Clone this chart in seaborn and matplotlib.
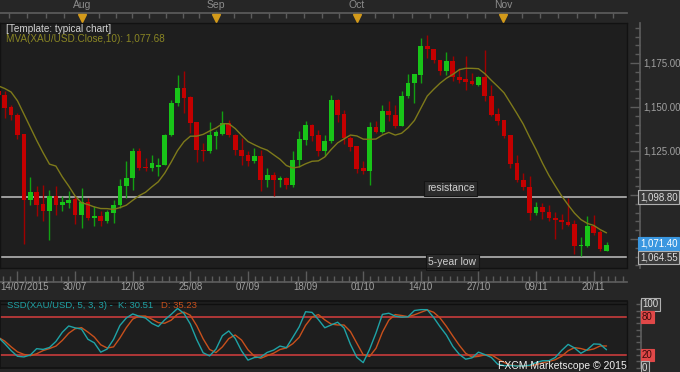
import numpy as np
import pandas as pd
import matplotlib
matplotlib.use("Agg")
import matplotlib.pyplot as plt
import matplotlib.transforms as mtransforms
from matplotlib.ticker import FuncFormatter, MultipleLocator
import seaborn as sns

# ---------------- data ----------------
opens = [1158.9, 1157.0, 1150.0, 1145.6, 1134.7, 1097.3, 1101.7, 1094.9, 1090.7, 1099.2,
         1094.1, 1095.4, 1097.7, 1088.8, 1096.0, 1086.9, 1088.3, 1085.4, 1089.8, 1094.5,
         1104.9, 1109.7, 1124.8, 1115.9, 1115.3, 1115.9, 1117.2, 1134.3, 1152.3, 1160.8,
         1155.5, 1141.3, 1125.8, 1124.8, 1133.7, 1134.8, 1140.9, 1134.3, 1125.8, 1122.5,
         1119.5, 1122.4, 1108.3, 1111.5, 1108.3, 1109.7, 1105.5, 1120.1, 1131.4, 1140.0,
         1133.9, 1124.8, 1130.5, 1154.2, 1146.2, 1132.4, 1127.7, 1115.3, 1113.8, 1138.5,
         1135.8, 1147.5, 1145.6, 1139.0, 1156.1, 1163.6, 1168.4, 1184.5, 1183.0, 1176.5,
         1170.6, 1175.9, 1167.0, 1165.9, 1164.6, 1162.5, 1166.9, 1156.1, 1146.2, 1142.4,
         1133.9, 1118.2, 1108.7, 1104.5, 1089.8, 1093.0, 1090.2, 1086.9, 1085.6, 1084.5,
         1083.5, 1070.8, 1071.2, 1082.6, 1079.0, 1068.2]
highs = [1160.5, 1158.9, 1151.3, 1146.6, 1134.7, 1110.2, 1104.9, 1105.9, 1103.0, 1104.9,
         1099.2, 1102.5, 1099.2, 1104.0, 1098.3, 1093.6, 1090.7, 1091.7, 1097.3, 1109.1,
         1119.1, 1126.7, 1126.7, 1121.0, 1122.9, 1121.0, 1134.8, 1154.2, 1168.4, 1170.3,
         1156.4, 1141.3, 1129.6, 1141.5, 1137.1, 1147.9, 1142.4, 1134.5, 1132.4, 1124.8,
         1126.7, 1125.8, 1115.1, 1112.9, 1111.0, 1110.0, 1124.8, 1136.2, 1141.9, 1140.2,
         1137.1, 1134.3, 1157.0, 1154.4, 1148.1, 1133.3, 1127.9, 1119.1, 1141.5, 1141.9,
         1151.3, 1153.6, 1151.3, 1159.3, 1168.8, 1169.0, 1189.2, 1191.1, 1183.2, 1176.7,
         1181.1, 1179.2, 1172.2, 1179.2, 1169.3, 1167.4, 1182.6, 1162.7, 1149.4, 1142.6,
         1134.0, 1122.5, 1112.5, 1110.6, 1096.0, 1095.4, 1094.5, 1090.2, 1089.2, 1098.3,
         1085.6, 1075.9, 1087.9, 1088.5, 1079.9, 1073.1]
lows = [1155.0, 1143.7, 1142.8, 1131.8, 1072.4, 1094.5, 1088.3, 1085.4, 1074.2, 1088.8,
        1090.7, 1092.6, 1083.5, 1081.3, 1086.0, 1082.2, 1082.2, 1084.1, 1084.1, 1092.6,
        1098.3, 1103.0, 1114.4, 1113.4, 1113.4, 1110.6, 1116.8, 1133.3, 1150.4, 1146.6,
        1135.2, 1118.6, 1119.1, 1123.9, 1126.1, 1134.3, 1132.9, 1122.9, 1117.2, 1116.7,
        1118.2, 1102.1, 1104.5, 1099.2, 1104.4, 1103.6, 1104.5, 1115.9, 1128.2, 1130.5,
        1122.3, 1122.3, 1129.5, 1141.3, 1129.2, 1124.8, 1112.5, 1112.1, 1105.5, 1135.2,
        1135.2, 1142.2, 1138.1, 1139.0, 1155.1, 1152.3, 1163.6, 1177.8, 1175.0, 1168.4,
        1168.4, 1164.6, 1163.6, 1159.8, 1162.7, 1161.7, 1153.2, 1144.7, 1140.0, 1132.4,
        1115.3, 1107.4, 1103.0, 1086.0, 1088.8, 1086.4, 1085.0, 1075.0, 1080.9, 1082.2,
        1066.7, 1065.2, 1070.5, 1077.5, 1068.0, 1068.2]
closes = [1157.0, 1149.4, 1145.6, 1134.3, 1097.3, 1101.7, 1094.5, 1090.7, 1099.2, 1094.5,
          1095.8, 1097.3, 1088.8, 1096.0, 1086.9, 1088.3, 1085.4, 1090.2, 1094.5, 1104.9,
          1109.7, 1124.8, 1115.3, 1115.2, 1118.2, 1116.9, 1134.3, 1152.3, 1160.8, 1155.1,
          1140.9, 1125.4, 1125.0, 1134.3, 1135.6, 1140.9, 1134.3, 1125.4, 1122.4, 1119.5,
          1122.4, 1108.3, 1111.5, 1108.3, 1109.7, 1105.5, 1120.1, 1131.8, 1140.0, 1133.7,
          1124.8, 1130.5, 1154.2, 1145.6, 1132.4, 1127.3, 1115.0, 1113.8, 1138.5, 1135.8,
          1147.5, 1145.3, 1139.0, 1156.1, 1163.6, 1168.8, 1184.5, 1183.0, 1176.5, 1170.6,
          1175.9, 1167.0, 1165.5, 1164.4, 1163.1, 1166.9, 1156.1, 1145.6, 1141.9, 1133.7,
          1117.8, 1108.3, 1104.4, 1089.8, 1093.0, 1090.2, 1086.9, 1085.6, 1084.5, 1083.2,
          1070.8, 1071.8, 1082.6, 1078.4, 1069.5, 1071.4]

# indicator values before enough history exists
mva_head = [1162.0, 1160.5, 1158.5, 1153.5, 1146.0, 1138.5, 1131.0, 1124.0, 1117.5]
k_head = [48, 38, 27, 18, 17, 20]
d_head = [48, 42, 33, 25, 21, 19, 22, 27]

date_labels = ["14/07/2015", "30/07", "12/08", "25/08", "07/09", "18/09",
               "01/10", "14/10", "27/10", "09/11", "20/11"]
date_bars = [3, 12, 21, 30, 39, 48, 57, 66, 75, 84, 93]
month_labels = ["Aug", "Sep", "Oct", "Nov"]
month_bars = [13.1, 34.0, 56.0, 78.9]

resistance = 1098.80
five_year_low = 1064.55
last_price = 1071.40
price_ticks = [1075, 1100, 1125, 1150, 1175]
price_labelled = [1125, 1150, 1175]

legend_template = "[Template: typical chart]"
legend_mva = "MVA(XAU/USD.Close,10): 1,077.68"
ssd_text_k = "SSD(XAU/USD, 5, 3, 3) -  K: 30.51"
ssd_text_d = "D: 35.23"

# ---------------- derived series ----------------
n = len(closes)
df = pd.DataFrame({"bar": np.arange(n), "open": opens, "high": highs,
                   "low": lows, "close": closes})
mva = df["close"].rolling(10).mean()
mva.iloc[:len(mva_head)] = mva_head
df["mva"] = mva
ll = df["low"].rolling(5).min()
hh = df["high"].rolling(5).max()
raw = 100 * (df["close"] - ll) / (hh - ll)
k = raw.rolling(3).mean()
k.iloc[:len(k_head)] = k_head
d = k.rolling(3).mean()
d.iloc[:len(d_head)] = d_head
df["k"] = k
df["d"] = d

# ---------------- styling ----------------
W, H = 680, 372
FIG_BG = "#262626"
AX_BG = "#1e1e1e"
GRID = "#5c5c5c"
TXT = "#a0a0a0"
sns.set_theme(style="dark", rc={"axes.facecolor": AX_BG, "figure.facecolor": FIG_BG,
                                "savefig.facecolor": FIG_BG})
plt.rcParams["font.family"] = ["Liberation Sans", "DejaVu Sans"]

fig = plt.figure(figsize=(W / 100, H / 100), dpi=100)

def fx(px):
    return px / W

def fy(py):
    return 1 - py / H

ax = fig.add_axes([0, fy(268), fx(627), (268 - 23) / H])
ax2 = fig.add_axes([0, fy(368), fx(627), (368 - 301) / H])

XMIN, XMAX = 0.27, 98.2
ax.set_xlim(XMIN, XMAX)
ax.set_ylim(1058.5, 1197.7)
ax2.set_xlim(XMIN, XMAX)
ax2.set_ylim(-0.47, 105.2)

# ---------------- candles ----------------
up = df["close"] >= df["open"]
body_col = np.where(up, "#18c418", "#c40000")
wick_col = np.where(up, "#12a012", "#a00000")
ax.vlines(df["bar"], df["low"], df["high"], colors=wick_col, linewidth=1.0, zorder=2)
body_h = (df["close"] - df["open"]).abs().clip(lower=0.5)
body_b = df[["open", "close"]].min(axis=1)
ax.bar(df["bar"], body_h, bottom=body_b, width=0.74, color=body_col, linewidth=0, zorder=3)

sns.lineplot(data=df, x="bar", y="mva", ax=ax, color="#7e7a1a", linewidth=1.0, zorder=4)

ax.axhline(resistance, color="#a8a8a8", linewidth=1.3, zorder=1)
ax.axhline(five_year_low, color="#a8a8a8", linewidth=1.3, zorder=1)

box_lbl = dict(boxstyle="square,pad=0.25", fc="#2c2c2c", ec="#141414", lw=0.8)
ax.text(70.7, 1103.7, "resistance", color="#d0d0d0", fontsize=7.5, ha="center",
        va="center", bbox=box_lbl, zorder=6)
ax.text(70.9, 1061.9, "5-year low", color="#d0d0d0", fontsize=7.5, ha="center",
        va="center", bbox=box_lbl, zorder=6)

# ---------------- axes decoration (main) ----------------
ax.set_xlabel("")
ax.set_ylabel("")
for s in ["left", "top"]:
    ax.spines[s].set_color("#121212")
    ax.spines[s].set_linewidth(1)
ax.spines["right"].set_position(("outward", 9))
ax.spines["right"].set_color(GRID)
ax.spines["bottom"].set_position(("outward", 10))
ax.spines["bottom"].set_color(GRID)
ax.plot([1, 1], [0, 1], transform=ax.transAxes, color="#121212", lw=1, clip_on=False, zorder=7)
ax.plot([0, 1], [0, 0], transform=ax.transAxes, color="#121212", lw=1, clip_on=False, zorder=7)

ax.yaxis.tick_right()
ax.set_yticks(price_ticks)
ax.yaxis.set_minor_locator(MultipleLocator(5))
ax.yaxis.set_major_formatter(
    FuncFormatter(lambda v, p: f"{v:,.2f}" if round(v) in price_labelled else ""))
ax.tick_params(axis="y", which="major", direction="in", length=7, width=1,
               color=GRID, labelcolor=TXT, labelsize=7, pad=3)
ax.tick_params(axis="y", which="minor", direction="in", length=3.5, width=1, color=GRID)

ax.set_xticks(date_bars)
ax.set_xticklabels([""] * len(date_bars))
minor_x = []
for a, b in zip(date_bars[:-1], date_bars[1:]):
    minor_x.extend(np.linspace(a, b, 9)[1:-1])
minor_x.extend(np.linspace(-6, 3, 9)[1:-1])
minor_x.extend(np.linspace(93, 102, 9)[1:-1])
ax.set_xticks([m for m in minor_x if XMIN <= m <= XMAX], minor=True)
ax.tick_params(axis="x", which="major", direction="in", length=8, width=1, color=GRID,
               bottom=True)
ax.tick_params(axis="x", which="minor", direction="in", length=4, width=1, color=GRID,
               bottom=True)
bt = mtransforms.blended_transform_factory(ax.transData, ax.transAxes)
for i, (lab, pos) in enumerate(zip(date_labels, date_bars)):
    if i == 0:
        ax.text(XMIN, -0.078, lab, transform=bt, color=TXT, fontsize=7, ha="left", va="center")
    else:
        ax.text(pos, -0.078, lab, transform=bt, color=TXT, fontsize=7, ha="center", va="center")

# top month axis
sec = ax.secondary_xaxis(1 + 10 / 245)
sec.set_xticks(month_bars)
sec.set_xticklabels(month_labels)
top_minor = []
for a, b in zip(month_bars[:-1], month_bars[1:]):
    top_minor.extend(np.linspace(a, b, 9)[1:-1])
top_minor.extend(np.arange(month_bars[0] - 2.86, XMIN, -2.86))
top_minor.extend(np.arange(month_bars[-1] + 2.86, XMAX, 2.86))
sec.set_xticks(top_minor, minor=True)
sec.tick_params(axis="x", which="both", direction="in", length=3.5, width=1, color=GRID,
                labelcolor="#8c8c8c", labelsize=7.5, pad=2)
sec.spines["top"].set_color(GRID)
ax.plot(month_bars, [1.0224] * len(month_bars), transform=bt, linestyle="none",
        marker="v", markersize=6, color="#d39a1a", clip_on=False, zorder=8)

# price boxes on right
rt = mtransforms.blended_transform_factory(ax.transAxes, ax.transData)
xr = 640 / 627
ax.text(xr, resistance, f"{resistance:,.2f}", transform=rt, color="#dcdcdc", fontsize=7,
        ha="left", va="center", zorder=9,
        bbox=dict(boxstyle="square,pad=0.18", fc="#3a3a3a", ec="#b0b0b0", lw=0.8))
ax.text(xr, last_price + 0.9, f"{last_price:,.2f}", transform=rt, color="#ffffff", fontsize=7,
        ha="left", va="center", zorder=9,
        bbox=dict(boxstyle="square,pad=0.18", fc="#3a97e0", ec="#3a97e0", lw=0.8))
ax.text(xr, five_year_low, f"{five_year_low:,.2f}", transform=rt, color="#dcdcdc", fontsize=7,
        ha="left", va="center", zorder=9,
        bbox=dict(boxstyle="square,pad=0.18", fc="#3a3a3a", ec="#b0b0b0", lw=0.8))

# legend texts
fig.text(fx(6), fy(29), legend_template, color="#d2d2d2", fontsize=7.2, ha="left", va="center")
fig.text(fx(6), fy(38.5), legend_mva, color="#8a8624", fontsize=7.2, ha="left", va="center")

# ---------------- stochastic panel ----------------
sns.lineplot(data=df, x="bar", y="d", ax=ax2, color="#c8501c", linewidth=1.0, zorder=3)
sns.lineplot(data=df, x="bar", y="k", ax=ax2, color="#1fa3a6", linewidth=1.0, zorder=4)
ax2.axhline(80, color="#c83c3c", linewidth=1.2, zorder=2)
ax2.axhline(20, color="#c83c3c", linewidth=1.2, zorder=2)
ax2.axhline(100, color="#0f0f0f", linewidth=1.0, zorder=2)
ax2.set_xlabel("")
ax2.set_ylabel("")
ax2.set_xticks([])
for s in ["left", "top", "bottom"]:
    ax2.spines[s].set_color("#121212")
ax2.spines["right"].set_position(("outward", 10))
ax2.spines["right"].set_color(GRID)
ax2.plot([1, 1], [0, 1], transform=ax2.transAxes, color="#121212", lw=1, clip_on=False)
ax2.yaxis.tick_right()
ax2.set_yticks(np.arange(0, 101, 10))
ax2.set_yticklabels([])
ax2.tick_params(axis="y", direction="in", length=3.5, width=1, color=GRID)

rt2 = mtransforms.blended_transform_factory(ax2.transAxes, ax2.transData)
xr2 = 642 / 627
for val, fc, tc in [(100, "#3a3a3a", "#dcdcdc"), (80, "#e04848", "#3a0a0a"),
                    (20, "#e04848", "#3a0a0a"), (0, "#3a3a3a", "#dcdcdc")]:
    ax2.text(xr2, val, f"{val}", transform=rt2, color=tc, fontsize=7, ha="left", va="center",
             zorder=9, bbox=dict(boxstyle="square,pad=0.15", fc=fc,
                                 ec="#b0b0b0" if fc == "#3a3a3a" else fc, lw=0.8))

fig.text(fx(7), fy(305.5), ssd_text_k, color="#1fa3a6", fontsize=6.8, ha="left", va="center")
fig.text(fx(161), fy(305.5), ssd_text_d, color="#c8501c", fontsize=6.8, ha="left", va="center")
fig.text(fx(627), fy(366), "FXCM Marketscope \u00a9 2015", color="#f0f0f0", fontsize=7.5,
         ha="right", va="center", zorder=10)

fig.savefig("out.png", dpi=100, facecolor=FIG_BG)
